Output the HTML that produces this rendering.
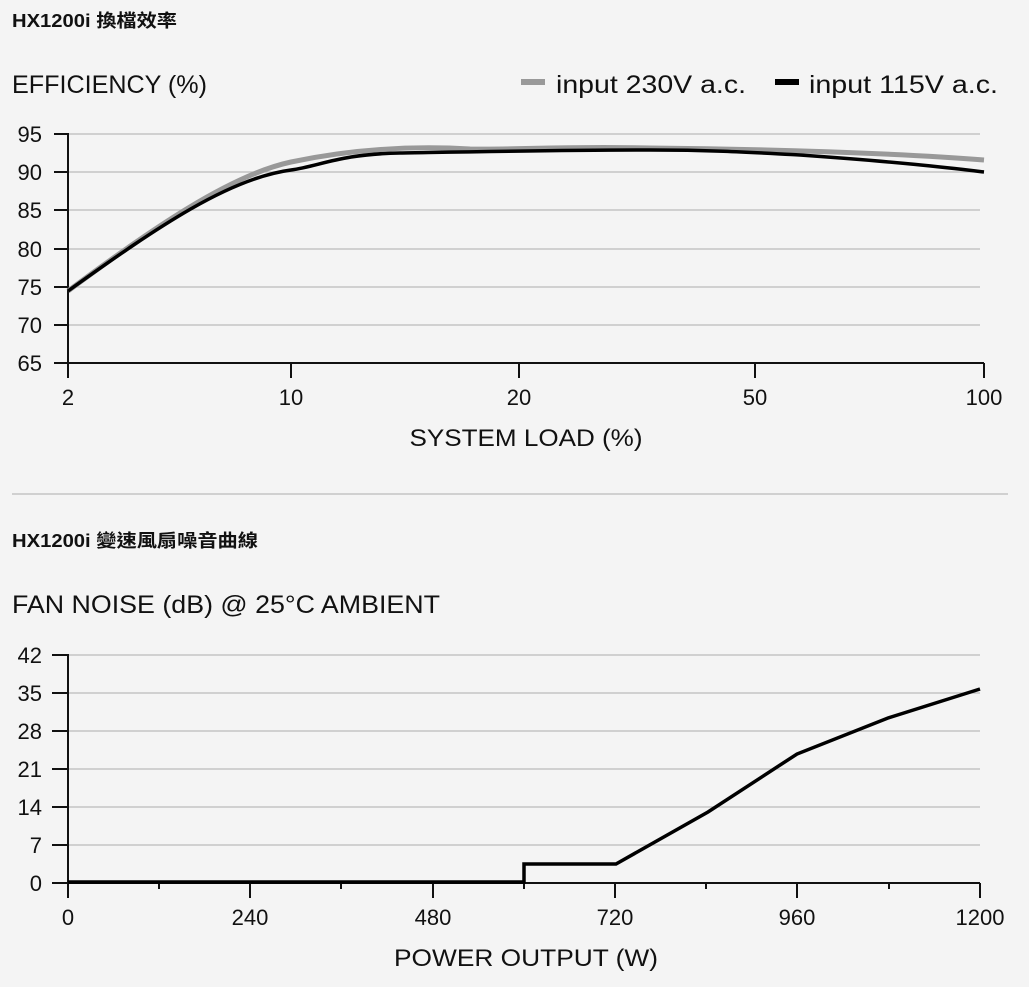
<!DOCTYPE html>
<html><head><meta charset="utf-8"><style>
html,body{margin:0;padding:0;background:#f4f4f4;}
body{width:1029px;height:987px;overflow:hidden;}
svg{display:block;font-family:"Liberation Sans","Noto Sans CJK TC",sans-serif;}
</style></head><body>
<svg width="1029" height="987" viewBox="0 0 1029 987">
<rect width="1029" height="987" fill="#f4f4f4"/>
<text x="12" y="27" font-size="18" font-weight="bold" fill="#111" textLength="165" lengthAdjust="spacingAndGlyphs">HX1200i 換檔效率</text>
<text x="12" y="93" font-size="25" fill="#111" textLength="195" lengthAdjust="spacingAndGlyphs">EFFICIENCY (%)</text>
<rect x="521" y="79" width="24" height="6" fill="#999"/>
<text x="556" y="93" font-size="25" fill="#111" textLength="190" lengthAdjust="spacingAndGlyphs">input 230V a.c.</text>
<rect x="775" y="79" width="24" height="6" fill="#000"/>
<text x="809" y="93" font-size="25" fill="#111" textLength="189" lengthAdjust="spacingAndGlyphs">input 115V a.c.</text>
<g stroke="#bbb" stroke-width="1.2">
<line x1="68" y1="134" x2="980" y2="134"/><line x1="68" y1="172" x2="980" y2="172"/>
<line x1="68" y1="210" x2="980" y2="210"/><line x1="68" y1="249" x2="980" y2="249"/>
<line x1="68" y1="287" x2="980" y2="287"/><line x1="68" y1="325" x2="980" y2="325"/>
</g>
<g stroke="#111" stroke-width="2">
<line x1="68" y1="133" x2="68" y2="364"/><line x1="68" y1="363" x2="984" y2="363"/>
<line x1="54" y1="134" x2="68" y2="134"/><line x1="54" y1="172" x2="68" y2="172"/>
<line x1="54" y1="210" x2="68" y2="210"/><line x1="54" y1="249" x2="68" y2="249"/>
<line x1="54" y1="287" x2="68" y2="287"/><line x1="54" y1="325" x2="68" y2="325"/>
<line x1="54" y1="363" x2="68" y2="363"/>
<line x1="68" y1="363" x2="68" y2="378"/><line x1="291" y1="363" x2="291" y2="378"/>
<line x1="519" y1="363" x2="519" y2="378"/><line x1="755" y1="363" x2="755" y2="378"/>
<line x1="984" y1="363" x2="984" y2="378"/>
</g>
<g font-size="22" fill="#111" text-anchor="end">
<text x="42" y="142">95</text><text x="42" y="180">90</text><text x="42" y="218">85</text>
<text x="42" y="257">80</text><text x="42" y="295">75</text><text x="42" y="333">70</text><text x="42" y="371">65</text>
</g>
<g font-size="22" fill="#111" text-anchor="middle">
<text x="68" y="405">2</text><text x="291" y="405">10</text><text x="519" y="405">20</text>
<text x="755" y="405">50</text><text x="984" y="405">100</text>
<text x="526" y="446" font-size="24" textLength="233" lengthAdjust="spacingAndGlyphs">SYSTEM LOAD (%)</text>
</g>
<path d="M68,291 C150,230 230,175 291,162 C340,151.6 400,145 470,149 C520,150 560,146 650,148 C760,149 900,153 984,160" fill="none" stroke="#999" stroke-width="5"/>
<path d="M68,291 C160,225 230,178 291,170 C320,166 340,154 400,153 C460,152 560,150 650,150 C720,150 760,153 800,155 C900,162 950,168 984,172" fill="none" stroke="#000" stroke-width="3.5"/>
<line x1="12" y1="494" x2="1008" y2="494" stroke="#bbb" stroke-width="1.2"/>
<text x="12" y="547" font-size="18" font-weight="bold" fill="#111" textLength="246" lengthAdjust="spacingAndGlyphs">HX1200i 變速風扇噪音曲線</text>
<text x="12" y="613" font-size="25" fill="#111" textLength="428" lengthAdjust="spacingAndGlyphs">FAN NOISE (dB) @ 25°C AMBIENT</text>
<g stroke="#bbb" stroke-width="1.2">
<line x1="68" y1="655" x2="980" y2="655"/><line x1="68" y1="693" x2="980" y2="693"/>
<line x1="68" y1="731" x2="980" y2="731"/><line x1="68" y1="769" x2="980" y2="769"/>
<line x1="68" y1="807" x2="980" y2="807"/><line x1="68" y1="845" x2="980" y2="845"/>
</g>
<g stroke="#111" stroke-width="2">
<line x1="68" y1="654" x2="68" y2="898"/><line x1="68" y1="883" x2="980" y2="883"/>
<line x1="52" y1="655" x2="68" y2="655"/><line x1="52" y1="693" x2="68" y2="693"/>
<line x1="52" y1="731" x2="68" y2="731"/><line x1="52" y1="769" x2="68" y2="769"/>
<line x1="52" y1="807" x2="68" y2="807"/><line x1="52" y1="845" x2="68" y2="845"/>
<line x1="52" y1="883" x2="68" y2="883"/>
<line x1="159" y1="883" x2="159" y2="889"/><line x1="250" y1="883" x2="250" y2="898"/>
<line x1="341" y1="883" x2="341" y2="889"/><line x1="433" y1="883" x2="433" y2="898"/>
<line x1="524" y1="883" x2="524" y2="889"/><line x1="615" y1="883" x2="615" y2="898"/>
<line x1="706" y1="883" x2="706" y2="889"/><line x1="797" y1="883" x2="797" y2="898"/>
<line x1="889" y1="883" x2="889" y2="889"/><line x1="980" y1="883" x2="980" y2="898"/>
</g>
<g font-size="22" fill="#111" text-anchor="end">
<text x="42" y="663">42</text><text x="42" y="701">35</text><text x="42" y="739">28</text>
<text x="42" y="777">21</text><text x="42" y="815">14</text><text x="42" y="853">7</text><text x="42" y="891">0</text>
</g>
<g font-size="22" fill="#111" text-anchor="middle">
<text x="68" y="925">0</text><text x="250" y="925">240</text><text x="433" y="925">480</text>
<text x="615" y="925">720</text><text x="797" y="925">960</text><text x="980" y="925">1200</text>
<text x="526" y="966" font-size="24" textLength="264" lengthAdjust="spacingAndGlyphs">POWER OUTPUT (W)</text>
</g>
<path d="M68,882 L524,882 L524,864 L616,864 L708,812 L797,754 L888,718 L980,689" fill="none" stroke="#000" stroke-width="3.5"/>
</svg>
</body></html>
